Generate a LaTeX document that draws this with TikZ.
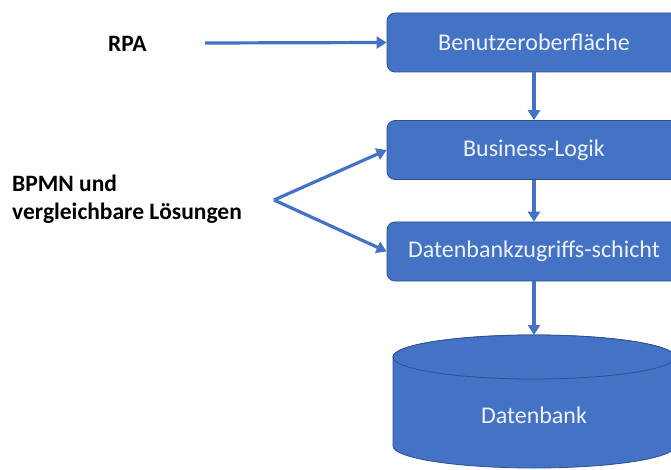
\documentclass[tikz,border=0pt]{standalone}
\usepackage{fontspec}
\setmainfont{Carlito}
\usetikzlibrary{arrows.meta}
\definecolor{boxblue}{HTML}{4472C4}
\definecolor{boxedge}{HTML}{2F528F}
\definecolor{boxtext}{HTML}{EEF2FA}
\begin{document}
\begin{tikzpicture}[x=1pt,y=-1pt,
  layer/.style={rectangle, rounded corners=8pt, fill=boxblue, draw=boxedge, line width=0.8pt,
    minimum width=294pt, minimum height=59pt, text=boxtext, font=\fontsize{24}{29}\selectfont},
  lbl/.style={font=\bfseries\fontsize{23.5}{28.5}\selectfont, text=black, inner sep=0pt},
  conn/.style={draw=boxblue, line width=3.2pt, -{Triangle[width=12pt,length=10pt]}}]
\useasboundingbox (0,0) rectangle (671,470);
\fill[white] (0,0) rectangle (671,470);
% layers
\node[layer] (ui) at (534,42.5) {Benutzeroberfläche};
\node[layer] (bl) at (534,150) {Business-Logik};
\node[layer] (dal) at (534,251.5) {Datenbankzugriffs-schicht};
% database cylinder
\fill[boxblue, draw=boxedge, line width=0.8pt]
  (393,357) -- (393,446) arc[start angle=180, end angle=0, x radius=141, y radius=22]
  -- (675,357) arc[start angle=0, end angle=-180, x radius=141, y radius=22] -- cycle;
\draw[boxedge, line width=0.8pt, fill=boxblue] (534,357) ellipse[x radius=141, y radius=22];
\coordinate (dbtop) at (534,335);
\node[text=boxtext, font=\fontsize{24}{29}\selectfont] (db) at (534,415) {Datenbank};
% labels
\node[lbl, anchor=west] (rpa) at (108,44) {RPA};
\node[lbl, anchor=base west, align=left] (bpmn) at (12,220) {BPMN und\\vergleichbare Lösungen};
\coordinate (rpastart) at (205,43);
\coordinate (fork) at (274,200);
% connectors
\draw[conn] (rpastart) -- (ui.west);
\draw[conn] (ui.south) -- (bl.north);
\draw[conn] (bl.south) -- (dal.north);
\draw[conn] (dal.south) -- (dbtop);
\draw[conn] (fork) -- (bl.west);
\draw[conn] (fork) -- (dal.west);
\end{tikzpicture}
\end{document}
